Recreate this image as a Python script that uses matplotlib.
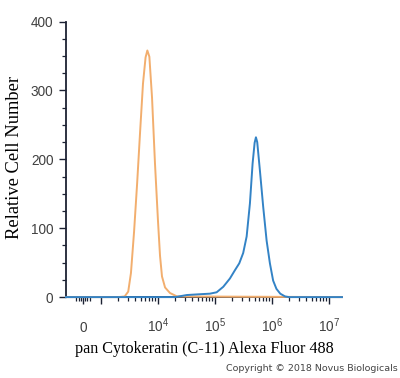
import matplotlib
matplotlib.use("Agg")
import matplotlib.pyplot as plt
from matplotlib.ticker import FixedLocator

# isotype control (orange) histogram, fluorescence vs count
control_x = [-950, 2000, 2600, 3000, 3350, 3800, 4300, 4850, 5450, 6050, 6500,
             7050, 7850, 8850, 10000, 10850, 11750, 13300, 16200, 21500, 1.7e7]
control_y = [0, 0, 1, 8, 35, 95, 165, 240, 310, 348, 358,
             349, 290, 194, 110, 60, 30, 14, 6, 1, 0]

# pan Cytokeratin (C-11) stained (blue) histogram
stain_x = [-950, 20000, 31900, 50000, 81700, 107000, 140000, 183000, 224000,
           267000, 313000, 360000, 411000, 458000, 497000, 524000, 552000,
           615000, 703000, 807000, 922000, 1.05e6, 1.2e6, 1.4e6, 1.7e6, 2.0e6, 1.7e7]
stain_y = [0, 0, 3, 4, 5, 7, 15, 27, 39,
           49, 64, 88, 136, 194, 224, 232, 225,
           184, 131, 82, 49, 24, 12, 5, 1, 0, 0]

x_major = [0, 1e3, 1e4, 1e5, 1e6, 1e7]
x_major_labels = ["0", "", r"$\mathregular{10^{4}}$", r"$\mathregular{10^{5}}$",
                  r"$\mathregular{10^{6}}$", r"$\mathregular{10^{7}}$"]
x_minor = [-400, -200, -100, 100, 200, 400] + [m * 10 ** k for k in range(3, 7) for m in range(2, 10)]

ORANGE = "#F2AE6E"
BLUE = "#3383C6"
AXIS = "#1c2233"

fig = plt.figure(figsize=(4, 3.78), dpi=100)
ax = fig.add_axes([0.165, 0.214, 0.69, 0.729])

ax.plot(control_x, control_y, color=ORANGE, lw=1.4, clip_on=False, zorder=3)
ax.plot(stain_x, stain_y, color=BLUE, lw=1.4, clip_on=False, zorder=4)

ax.set_xscale("symlog", linthresh=1000, linscale=0.284)
ax.set_xlim(-950, 1.7e7)
ax.set_ylim(0, 400)

ax.set_xticks(x_major)
ax.set_xticklabels(x_major_labels)
ax.xaxis.set_minor_locator(FixedLocator(x_minor))
ax.set_yticks([0, 100, 200, 300, 400])
ax.yaxis.set_minor_locator(FixedLocator([25, 50, 75, 125, 150, 175, 225, 250, 275, 325, 350, 375]))

for s in ["top", "right"]:
    ax.spines[s].set_visible(False)
for s in ["left", "bottom"]:
    ax.spines[s].set_linewidth(1.3)
    ax.spines[s].set_color(AXIS)

ax.tick_params(which="major", length=5, width=1.0, color=AXIS,
               labelsize=9.8, labelcolor="#404040")
ax.tick_params(which="minor", length=3, width=0.9, color=AXIS)
ax.tick_params(axis="x", which="major", pad=20)
ax.tick_params(axis="y", which="major", pad=4)
for lbl in ax.get_xticklabels() + ax.get_yticklabels():
    lbl.set_fontfamily("Liberation Sans")
for lbl in ax.get_xticklabels():
    lbl.set_verticalalignment("baseline")

ax.set_xlabel("pan Cytokeratin (C-11) Alexa Fluor 488", fontsize=11.6,
              fontfamily="Liberation Serif")
ax.set_ylabel("Relative Cell Number", fontsize=13.3, fontfamily="Liberation Serif")
ax.xaxis.set_label_coords(0.5, -0.19)
ax.xaxis.label.set_verticalalignment("center")
ax.yaxis.set_label_coords(-0.185, 0.507)
ax.yaxis.label.set_verticalalignment("center")

fig.text(0.995, 0.025, "Copyright \u00a9 2018 Novus Biologicals", ha="right", va="center",
         fontsize=6.8, color="#444444", fontfamily="DejaVu Sans")

fig.savefig("out.png", dpi=100, facecolor="white")
